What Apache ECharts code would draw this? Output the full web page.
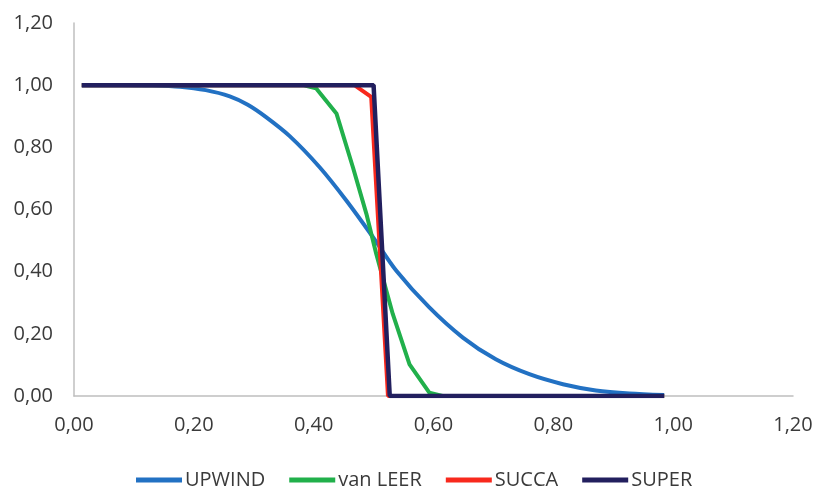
<!DOCTYPE html>
<html>
<head>
<meta charset="utf-8">
<script src="https://cdn.jsdelivr.net/npm/echarts@6/dist/echarts.min.js"></script>
<style>html,body{margin:0;padding:0;background:#fff}#c{width:817px;height:489px}</style>
</head>
<body>
<div id="c"></div>
<script>
// Data
var seriesNames = ['UPWIND', 'van LEER', 'SUCCA', 'SUPER'];
var xTicks = [0, 0.2, 0.4, 0.6, 0.8, 1.0, 1.2];
var yTicks = [0, 0.2, 0.4, 0.6, 0.8, 1.0, 1.2];

var upwindX = [0.013, 0.08, 0.13, 0.177, 0.22, 0.26, 0.29, 0.32, 0.36, 0.41, 0.4545, 0.499, 0.538, 0.593, 0.649, 0.704, 0.76, 0.816, 0.871, 0.927, 0.985];
var upwindY = [1.0, 1.0, 0.999, 0.995, 0.984, 0.964, 0.937, 0.898, 0.836, 0.736, 0.629, 0.511, 0.403, 0.285, 0.188, 0.118, 0.07, 0.038, 0.018, 0.008, 0.003];

var vanleerX = [0.013, 0.382, 0.404, 0.438, 0.4655, 0.488, 0.5045, 0.532, 0.56, 0.593, 0.615, 0.985];
var vanleerY = [1.0, 1.0, 0.99, 0.909, 0.736, 0.586, 0.457, 0.264, 0.102, 0.011, 0.0, 0.0];

var succaX = [0.013, 0.468, 0.496, 0.524, 0.985];
var succaY = [1.0, 1.0, 0.962, 0.0, 0.0];

var superX = [0.013, 0.5, 0.527, 0.985];
var superY = [1.0, 1.0, 0.0, 0.0];

function pairs(xs, ys) { return xs.map(function (x, i) { return [x, ys[i]]; }); }
var colors = ['#2271c3', '#21b04b', '#f8291d', '#221f5e'];
var fmt = function (v) { return v.toFixed(2).replace('.', ','); };

var chart = echarts.init(document.getElementById('c'));
var labelStyle = { color: '#3a3a3a', fontSize: 20, fontFamily: 'Open Sans' };
chart.setOption({
  animation: false,
  color: colors,
  grid: { left: 74, right: 24, top: 23, bottom: 93 },
  legend: {
    left: 131, top: 465,
    itemWidth: 46, itemHeight: 5, itemGap: 24,
    icon: 'rect',
    textStyle: { color: '#3a3a3a', fontSize: 20, fontFamily: 'Open Sans', padding: [0, 0, 0, -2] },
    data: seriesNames
  },
  xAxis: {
    type: 'value', min: 0, max: 1.2, interval: 0.2,
    axisLine: { show: true, lineStyle: { color: '#bfbfbf', width: 1.5 } },
    axisTick: { show: false },
    splitLine: { show: false },
    axisLabel: Object.assign({ formatter: fmt, margin: 19 }, labelStyle)
  },
  yAxis: {
    type: 'value', min: 0, max: 1.2, interval: 0.2,
    axisLine: { show: true, lineStyle: { color: '#bfbfbf', width: 1.5 } },
    axisTick: { show: false },
    splitLine: { show: false },
    axisLabel: Object.assign({ formatter: fmt, margin: 21 }, labelStyle)
  },
  series: [
    { name: seriesNames[0], type: 'line', data: pairs(upwindX, upwindY), smooth: 0.3, showSymbol: false, lineStyle: { width: 4 } },
    { name: seriesNames[1], type: 'line', data: pairs(vanleerX, vanleerY), showSymbol: false, lineStyle: { width: 4 } },
    { name: seriesNames[2], type: 'line', data: pairs(succaX, succaY), showSymbol: false, lineStyle: { width: 4 } },
    { name: seriesNames[3], type: 'line', data: pairs(superX, superY), showSymbol: false, lineStyle: { width: 4.5 } }
  ]
});
</script>
</body>
</html>
